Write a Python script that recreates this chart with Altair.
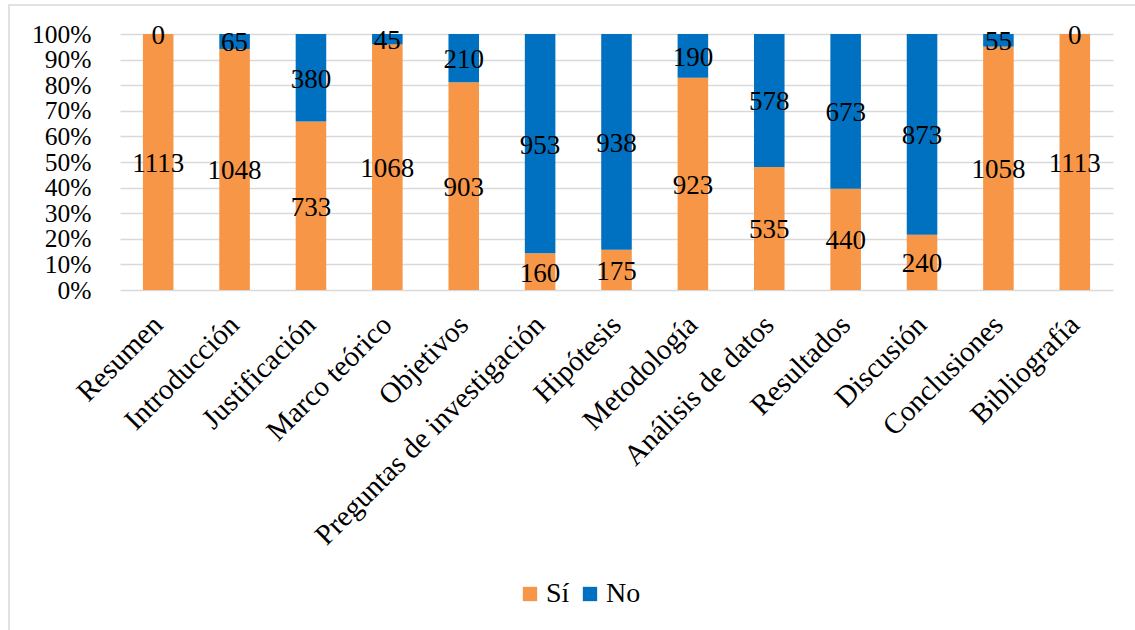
import altair as alt
import pandas as pd

# Sections of the research reports and how many include each one
categorias = [
    "Resumen", "Introducción", "Justificación", "Marco teórico", "Objetivos",
    "Preguntas de investigación", "Hipótesis", "Metodología",
    "Análisis de datos", "Resultados", "Discusión", "Conclusiones", "Bibliografía",
]
si = [1113, 1048, 733, 1068, 903, 160, 175, 923, 535, 440, 240, 1058, 1113]
no = [0, 65, 380, 45, 210, 953, 938, 190, 578, 673, 873, 55, 0]
series = ["Sí", "No"]
colores = ["#F79646", "#0070C0"]
ticks_y = [0, 0.1, 0.2, 0.3, 0.4, 0.5, 0.6, 0.7, 0.8, 0.9, 1]

rows = []
for c, s, n in zip(categorias, si, no):
    rows.append({"categoria": c, "serie": "Sí", "orden": 0, "valor": s})
    rows.append({"categoria": c, "serie": "No", "orden": 1, "valor": n})
df = pd.DataFrame(rows)

FONT = "Liberation Serif"
W, H = 993, 256
PAD = {"left": 120, "top": 34, "right": 1135 - 120 - W, "bottom": 630 - 34 - H}

base = (
    alt.Chart(df)
    .transform_stack(
        stack="valor",
        groupby=["categoria"],
        as_=["y0", "y1"],
        offset="normalize",
        sort=[alt.SortField("orden", order="ascending")],
    )
    .transform_calculate(mid="(datum.y0 + datum.y1) / 2")
)

x_scale = alt.Scale(paddingInner=0.6, paddingOuter=0.3)
y_scale = alt.Scale(domain=[0, 1], nice=False)

# Same axis definitions for every layer so the merged axes keep these settings
x_axis = alt.Axis(
    labelAngle=-45,
    labelAlign="right",
    labelBaseline="top",
    labelPadding=20,
    labelOffset=-10,
    labelLimit=600,
    labelOverlap=False,
    labelFont=FONT,
    labelFontSize=29,
    labelColor="#000000",
    ticks=False,
    domain=False,
    grid=False,
)
y_axis = alt.Axis(
    format=".0%",
    values=ticks_y,
    labelPadding=29,
    labelOverlap=False,
    labelFlush=False,
    labelFont=FONT,
    labelFontSize=25.5,
    labelColor="#000000",
    ticks=False,
    domain=False,
    grid=True,
    gridColor="#D9D9D9",
    gridWidth=1.5,
)

bars = base.mark_bar().encode(
    x=alt.X("categoria:N", sort=categorias, title=None, scale=x_scale, axis=x_axis),
    y=alt.Y("y0:Q", title=None, scale=y_scale, axis=y_axis),
    y2="y1:Q",
    color=alt.Color(
        "serie:N",
        scale=alt.Scale(domain=series, range=colores),
        legend=alt.Legend(
            title=None,
            orient="none",
            direction="horizontal",
            legendX=396,
            legendY=546,
            symbolType="square",
            symbolSize=205,
            symbolStrokeWidth=0,
            columnPadding=6,
            labelOffset=2,
            labelFont=FONT,
            labelFontSize=28,
            labelColor="#000000",
        ),
    ),
)

labels = base.mark_text(font=FONT, fontSize=27, baseline="middle", dy=2, color="#000000").encode(
    x=alt.X("categoria:N", sort=categorias, title=None, scale=x_scale, axis=x_axis),
    y=alt.Y("mid:Q", title=None, scale=y_scale, axis=y_axis),
    text=alt.Text("valor:Q"),
)

frame = (
    alt.Chart(alt.Data(values=[{}]))
    .mark_rect(fillOpacity=0, stroke="#D9D9D9", strokeWidth=1.5)
    .encode(
        x=alt.value(-111),
        x2=alt.value(1200),
        y=alt.value(-29),
        y2=alt.value(900),
    )
)

chart = (
    alt.layer(frame, bars, labels)
    .properties(width=W, height=H, padding=PAD, autosize=alt.AutoSizeParams(type="none"))
    .configure(background="#FFFFFF", font=FONT)
    .configure_view(stroke=None)
    .configure_legend(labelFont=FONT)
)

chart.save("out.html", embed_options={"renderer": "svg", "actions": False})
